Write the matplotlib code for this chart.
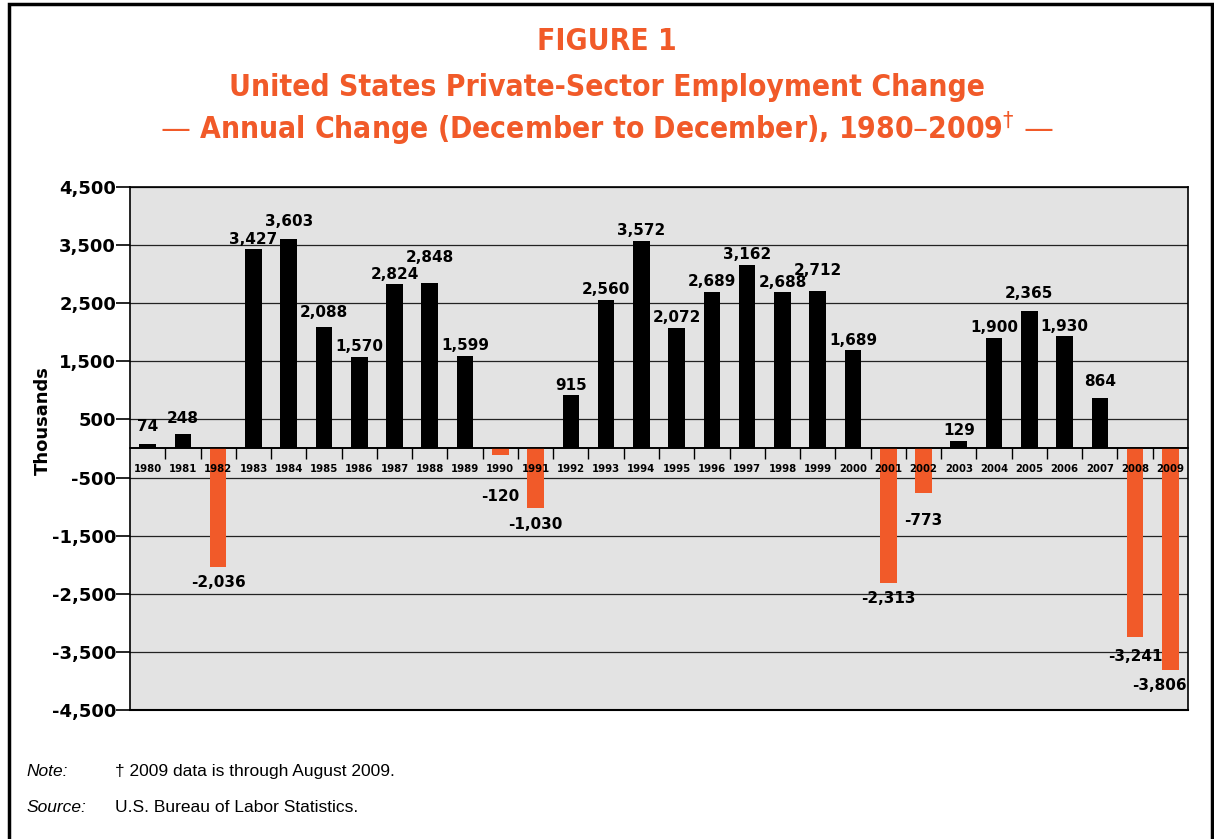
import matplotlib.pyplot as plt
from matplotlib.patches import Rectangle
from matplotlib.ticker import FuncFormatter, FixedLocator
from matplotlib.transforms import offset_copy

years = list(range(1980, 2010))
change = [74, 248, -2036, 3427, 3603, 2088, 1570, 2824, 2848, 1599,
          -120, -1030, 915, 2560, 3572, 2072, 2689, 3162, 2688, 2712,
          1689, -2313, -773, 129, 1900, 2365, 1930, 864, -3241, -3806]
yticks = [4500, 3500, 2500, 1500, 500, -500, -1500, -2500, -3500, -4500]

# extra nudges (points) for labels that would crowd each other
label_nudge = {1980: 5, 1981: 4, 1984: 5, 1985: 3, 1988: 11, 1999: 7,
               2005: 5, 2007: 5, 1990: 18, 2002: 8, 2008: 3}

orange = "#F15A29"

fig = plt.figure(figsize=(12.14, 8.39), dpi=100)
ax = fig.add_axes([0.1071, 0.1538, 0.8715, 0.6233])
ax.set_facecolor("#E3E3E3")

x = list(range(len(years)))
colors = ["black" if v >= 0 else orange for v in change]
ax.bar(x, change, width=0.47, color=colors, zorder=3)

ax.set_xlim(-0.5, len(years) - 0.5)
ax.set_ylim(-4500, 4500)

# grid lines at the odd thousands
for t in yticks:
    ax.axhline(t, color="#222222", lw=0.9, zorder=1)
ax.axhline(0, color="black", lw=1.2, zorder=4)

# y axis
ax.yaxis.set_major_locator(FixedLocator(yticks))
ax.yaxis.set_major_formatter(FuncFormatter(lambda v, p: f"{int(v):,}"))
ax.tick_params(axis="y", length=10, width=1.2, pad=0, labelsize=13)
for lab in ax.get_yticklabels():
    lab.set_fontweight("bold")
ax.set_ylabel("Thousands", fontsize=13, fontweight="bold")
ax.yaxis.set_label_coords(-0.074, 0.554)

# x axis sits on the zero line
ax.spines["bottom"].set_position(("data", 0))
ax.spines["bottom"].set_linewidth(1.2)
ax.set_xticks(x)
ax.set_xticklabels([])
ax.set_xticks([i + 0.5 for i in x[:-1]], minor=True)
ax.tick_params(axis="x", which="major", length=0)
ax.tick_params(axis="x", which="minor", length=8, width=1)
ax.plot([0, 1], [0, 0], transform=ax.transAxes, color="black", lw=1.5,
        clip_on=False, zorder=5)
for s in ["top", "left", "right"]:
    ax.spines[s].set_linewidth(1.2)

# year labels drawn above the bars
below = offset_copy(ax.transData, fig=fig, x=0, y=-15, units="points")
for i, yr in zip(x, years):
    ax.text(i, 0, str(yr), transform=below, ha="center", va="center",
            fontsize=7.3, fontweight="bold", zorder=6)

# value labels
for i, yr, v in zip(x, years, change):
    nudge = label_nudge.get(yr, 0)
    if v >= 0:
        ax.annotate(f"{v:,}", (i, v), xytext=(0, 2 + nudge), textcoords="offset points",
                    ha="center", va="bottom", fontsize=11, fontweight="bold", zorder=6)
    else:
        dx = -8 if yr == 2009 else 0
        ax.annotate(f"{v:,}", (i, v), xytext=(dx, -6 - nudge), textcoords="offset points",
                    ha="center", va="top", fontsize=11, fontweight="bold", zorder=6)

# titles
tkw = dict(ha="center", va="center", color=orange, fontsize=21.5, fontweight="bold",
           family="DejaVu Sans", fontstretch="condensed")
fig.text(0.5, 0.951, "FIGURE 1", **tkw)
fig.text(0.5, 0.896, "United States Private-Sector Employment Change", **tkw)
fig.text(0.5, 0.847, "— Annual Change (December to December), 1980–2009$^{\\dagger}$ —", **tkw)

# notes
nkw = dict(fontsize=12.5, va="center", family="Liberation Sans")
fig.text(0.022, 0.081, "Note:", style="italic", **nkw)
fig.text(0.095, 0.081, "† 2009 data is through August 2009.", **nkw)
fig.text(0.022, 0.037, "Source:", style="italic", **nkw)
fig.text(0.095, 0.037, "U.S. Bureau of Labor Statistics.", **nkw)

# outer frame
fig.patches.append(Rectangle((0.0075, -0.02), 0.9905, 1.015, transform=fig.transFigure,
                             fill=False, edgecolor="black", lw=2.5))

fig.savefig("out.png", dpi=100)
